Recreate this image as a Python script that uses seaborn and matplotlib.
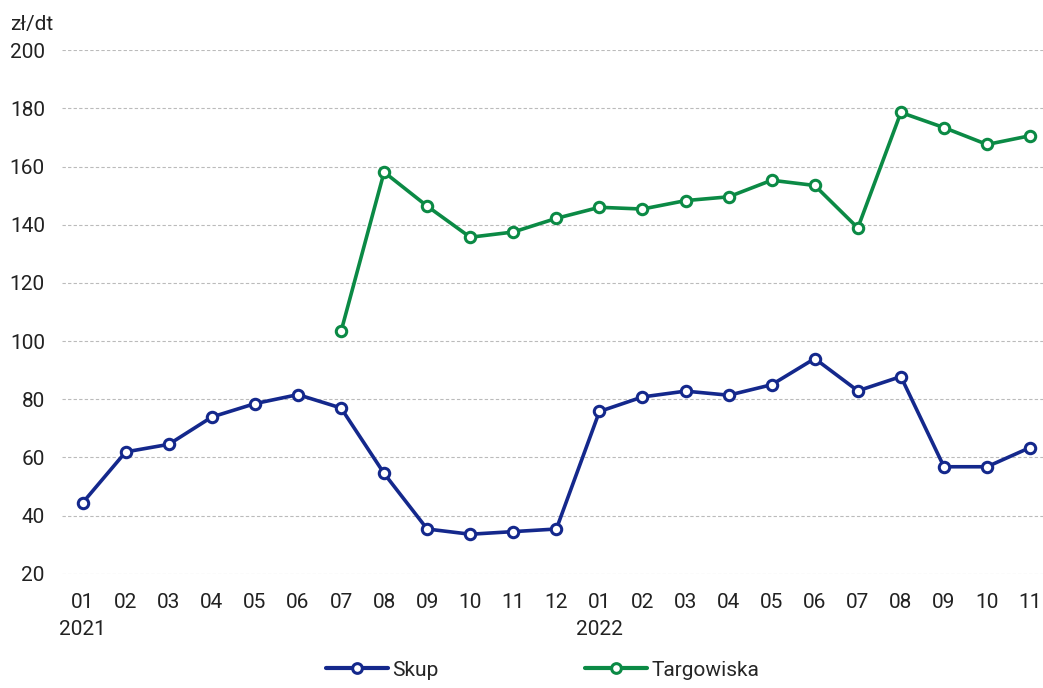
import numpy as np
import pandas as pd
import matplotlib
matplotlib.use("Agg")
import matplotlib.pyplot as plt
import seaborn as sns

months = ["01", "02", "03", "04", "05", "06", "07", "08", "09", "10", "11", "12",
          "01", "02", "03", "04", "05", "06", "07", "08", "09", "10", "11"]
years = {0: "2021", 12: "2022"}

skup = [44.4, 61.9, 64.5, 73.9, 78.5, 81.6, 77.0, 54.5, 35.4, 33.6, 34.5, 35.4,
        75.8, 80.8, 82.8, 81.4, 85.0, 94.0, 82.9, 87.8, 56.8, 56.8, 63.4]
targowiska = [np.nan] * 6 + [103.3, 158.1, 146.4, 135.7, 137.5, 142.2,
                             146.0, 145.4, 148.3, 149.6, 155.3, 153.5, 138.9,
                             178.6, 173.4, 167.6, 170.6]

series_names = ["Skup", "Targowiska"]
colors = ["#14288c", "#0b8a45"]

df = pd.DataFrame({"idx": range(len(months)), "Skup": skup, "Targowiska": targowiska})
long_df = df.melt(id_vars="idx", var_name="seria", value_name="cena").dropna()

sns.set_style("white")
plt.rcParams["font.family"] = ["Liberation Sans Narrow", "Roboto", "DejaVu Sans"]

fig = plt.figure(figsize=(10.43, 6.88), dpi=100)
ax = fig.add_axes([0.059, 0.166, 0.941, 0.761])

sns.lineplot(data=long_df, x="idx", y="cena", hue="seria", hue_order=series_names,
             palette=colors, marker="o", markersize=7.5, markerfacecolor="white",
             markeredgewidth=2.2, linewidth=2.6, ax=ax, legend=False)
for line, c in zip(ax.lines, colors):
    line.set_markeredgecolor(c)

ax.set_ylim(20, 200)
ax.set_yticks(range(20, 201, 20))
ax.set_xlim(-0.49, 22.3)
ax.set_xticks(range(len(months)))
ax.set_xticklabels([m + ("\n" + years[i] if i in years else "") for i, m in enumerate(months)],
                   fontsize=15, color="#222222", linespacing=1.5)
for lbl in ax.get_xticklabels():
    lbl.set_horizontalalignment("center")
    lbl.set_multialignment("center")
ax.tick_params(axis="y", labelsize=15, colors="#222222", length=0, pad=12)
ax.tick_params(axis="x", length=0, pad=14)

ax.grid(axis="y", linestyle=(0, (3, 2)), color="#bbbbbb", linewidth=0.8)
ax.grid(axis="x", visible=False)
for s in ax.spines.values():
    s.set_visible(False)
ax.set_xlabel("")
ax.set_ylabel("")

fig.text(0.01, 0.965, "zł/dt", fontsize=15, color="#222222", va="center")

handles = [plt.Line2D([], [], color=c, marker="o", markersize=7, markerfacecolor="white",
                      markeredgecolor=c, markeredgewidth=2.2, linewidth=3) for c in colors]
fig.legend(handles, series_names, loc="lower center", bbox_to_anchor=(0.52, -0.015), ncol=2,
           frameon=False, fontsize=15, columnspacing=7, handlelength=3, handletextpad=0.2)

fig.savefig("out.png", dpi=100)
